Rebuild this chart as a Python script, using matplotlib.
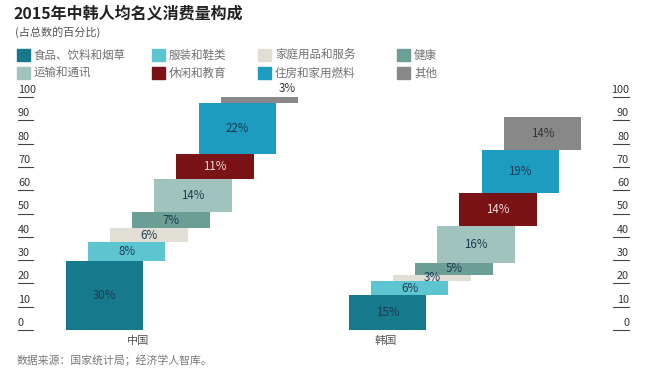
import matplotlib
matplotlib.use("Agg")
import matplotlib.pyplot as plt
import matplotlib.transforms as mtransforms
from matplotlib.patches import Rectangle
from matplotlib.lines import Line2D

plt.rcParams['font.family'] = ['Noto Sans CJK SC', 'DejaVu Sans']

# --- Data ---
categories = ["食品、饮料和烟草", "服装和鞋类", "家庭用品和服务", "健康",
              "运输和通讯", "休闲和教育", "住房和家用燃料", "其他"]
# order of stacking (bottom to top)
stack_order = ["食品、饮料和烟草", "服装和鞋类", "家庭用品和服务", "健康",
               "运输和通讯", "休闲和教育", "住房和家用燃料", "其他"]
china = [29.6, 8.0, 6.0, 7.0, 14.0, 10.9, 21.9, 2.6]
korea = [15.0, 6.0, 2.7, 5.0, 16.0, 14.0, 18.7, 14.0]
countries = ["中国", "韩国"]
yticks = [0, 10, 20, 30, 40, 50, 60, 70, 80, 90, 100]

colors = {
    "食品、饮料和烟草": "#17798c",
    "服装和鞋类": "#5cc5d0",
    "家庭用品和服务": "#e0ded5",
    "健康": "#6b9e94",
    "运输和通讯": "#a0c4bd",
    "休闲和教育": "#7a1315",
    "住房和家用燃料": "#1e9cc0",
    "其他": "#888888",
}
text_colors = {"休闲和教育": "#f3dede", "其他": "#333333"}

W, H = 646, 379
fig = plt.figure(figsize=(W / 100, H / 100), dpi=100)


def fx(px):
    return px / W


def fy(py):
    return 1 - py / H


# title + subtitle
fig.text(fx(14), fy(14), "2015年中韩人均名义消费量构成", fontsize=11.5,
         fontweight='bold', color="#222222", va='center', ha='left')
fig.text(fx(15), fy(32), "(占总数的百分比)", fontsize=8, color="#555555",
         va='center', ha='left')

# legend
leg_x = [17, 152, 258, 397]
leg_y = [55, 73]
for i, cat in enumerate(categories):
    r, c = divmod(i, 4)
    x0, y0 = leg_x[c], leg_y[r]
    fig.patches.append(Rectangle((fx(x0), fy(y0 + 6)), 13 / W, 12 / H,
                                 transform=fig.transFigure,
                                 color=colors[cat], zorder=3))
    fig.text(fx(x0 + 17), fy(y0), cat, fontsize=8.3, color="#707070",
             va='center', ha='left')

# panels
bottom = fy(330)
height = 233 / H
panels = [(66, china), (349, korea)]
axes = []
for (left_px, vals) in panels:
    ax = fig.add_axes([fx(left_px), bottom, 232 / W, height])
    ax.set_xlim(0, 10.5)
    ax.set_ylim(0, 100)
    ax.axis('off')
    base = 0
    n = len(vals)
    for i, (cat, v) in enumerate(zip(stack_order, vals)):
        ax.bar(i, v, width=3.5, bottom=base, align='edge',
               color=colors[cat], linewidth=0)
        label = f"{v:.0f}%"
        tc = text_colors.get(cat, "#1d3a52")
        if i == n - 1 and v < 4:
            ax.text(i + 3.0, base + v + 0.8, label, ha='center', va='bottom',
                    fontsize=8.3, color="#333333")
        else:
            ax.text(i + 1.75, base + v / 2, label, ha='center', va='center',
                    fontsize=8.3, color=tc)
        base += v
    axes.append(ax)

# y tick labels sitting on short underlines (left and right)
for ax, lx0, lx1, ha in [(axes[0], 18, 33, 'left'), (axes[1], 613, 629, 'right')]:
    tr = mtransforms.blended_transform_factory(fig.transFigure, ax.transData)
    tr_txt = mtransforms.offset_copy(tr, fig=fig, y=1.5, units='points')
    for t in yticks:
        fig.lines.append(Line2D([fx(lx0), fx(lx1)], [t, t], transform=tr,
                                color="#444444", linewidth=0.8))
        tx = fx(lx0) if ha == 'left' else fx(lx1)
        fig.text(tx, t, str(t), transform=tr_txt, ha=ha, va='bottom',
                 fontsize=7.8, color="#333333")

# country labels
fig.text(fx(138), fy(341), countries[0], fontsize=8, color="#555555",
         ha='center', va='center')
fig.text(fx(386), fy(341), countries[1], fontsize=8, color="#555555",
         ha='center', va='center')

fig.text(fx(17), fy(360), "数据来源：国家统计局；经济学人智库。", fontsize=7.8,
         color="#777777", ha='left', va='center')

fig.savefig("out.png", dpi=100, facecolor="white")
